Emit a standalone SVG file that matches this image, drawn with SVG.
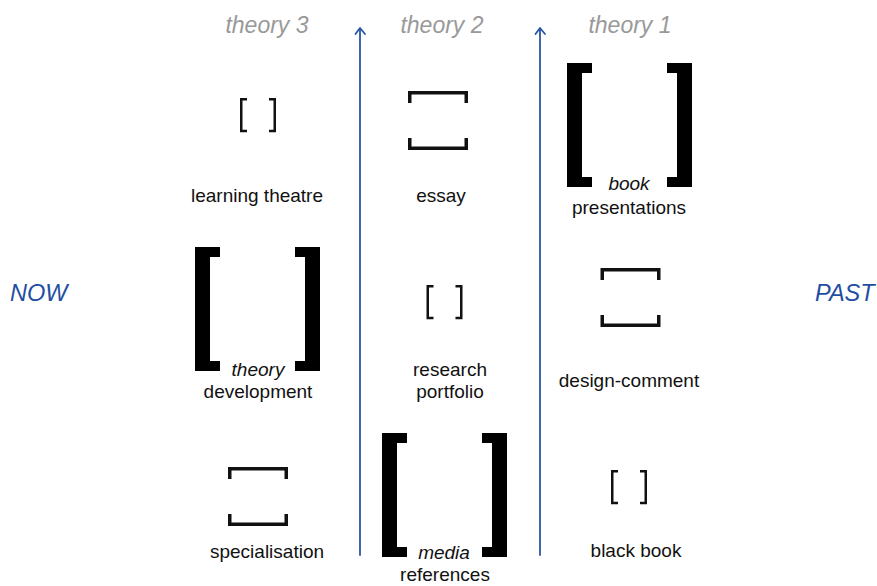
<svg xmlns="http://www.w3.org/2000/svg" width="877" height="586" viewBox="0 0 877 586">
<style>
.lbl{font-family:"Liberation Sans",Arial,sans-serif;font-size:19px;fill:#111;text-anchor:middle}
.it{font-style:italic}
.head{font-family:"Liberation Sans",Arial,sans-serif;font-size:23px;font-style:italic;fill:#999;text-anchor:middle}
.side{font-family:"Liberation Sans",Arial,sans-serif;font-size:23.5px;font-style:italic;fill:#1f4ea3}
.sb{fill:none;stroke:#111;stroke-width:2.5}
.hb{fill:none;stroke:#111;stroke-width:3.5}
.bb{fill:#000}
.arr{fill:none;stroke:#2a55a5;stroke-width:1.8;stroke-linecap:round;stroke-linejoin:round}
</style>
<defs>
<g id="big">
<polygon class="bb" points="0,0 25,0 25,10 15,10 15,114 25,114 25,124 0,124"/>
<polygon class="bb" points="125,0 100,0 100,10 110,10 110,114 100,114 100,124 125,124"/>
</g>
<g id="small">
<path class="sb" d="M7,1.25 H1.25 V33 H7"/>
<path class="sb" d="M29,1.25 H34.75 V33 H29"/>
</g>
<g id="horiz">
<path class="hb" d="M1.75,12 V1.75 H58.25 V12"/>
<path class="hb" d="M1.75,47 V57.25 H58.25 V47"/>
</g>
</defs>
<rect width="877" height="586" fill="#fff"/>
<text class="head" x="267" y="33">theory 3</text>
<text class="head" x="442" y="33">theory 2</text>
<text class="head" x="630" y="33">theory 1</text>
<text class="side" x="10" y="301">NOW</text>
<text class="side" x="815" y="301">PAST</text>
<g id="connectors">
<path class="arr" d="M360,29 V555"/>
<path class="arr" d="M355.5,34 L360,28 L365,34"/>
<path class="arr" d="M540,29 V555"/>
<path class="arr" d="M535.5,34 L540,28 L545,34"/>
</g>
<g id="learning-theatre">
<use href="#small" transform="translate(240,98)"/>
<text class="lbl" x="257" y="202">learning theatre</text>
</g>
<g id="essay">
<use href="#horiz" transform="translate(408,91)"/>
<text class="lbl" x="441" y="202">essay</text>
</g>
<g id="book-presentations">
<use href="#big" transform="translate(567,63)"/>
<text class="lbl it" x="629" y="190">book</text>
<text class="lbl" x="629" y="214">presentations</text>
</g>
<g id="theory-development">
<use href="#big" transform="translate(195,247)"/>
<text class="lbl it" x="258" y="376">theory</text>
<text class="lbl" x="258" y="398">development</text>
</g>
<g id="research-portfolio">
<use href="#small" transform="translate(426.5,285)"/>
<text class="lbl" x="450" y="376">research</text>
<text class="lbl" x="450" y="398">portfolio</text>
</g>
<g id="design-comment">
<use href="#horiz" transform="translate(600.5,268)"/>
<text class="lbl" x="629" y="387">design-comment</text>
</g>
<g id="specialisation">
<use href="#horiz" transform="translate(228,467)"/>
<text class="lbl" x="267" y="558">specialisation</text>
</g>
<g id="media-references">
<use href="#big" transform="translate(382,433)"/>
<text class="lbl it" x="444" y="559">media</text>
<text class="lbl" x="445" y="581">references</text>
</g>
<g id="black-book">
<use href="#small" transform="translate(611,470)"/>
<text class="lbl" x="636" y="557">black book</text>
</g>
</svg>
